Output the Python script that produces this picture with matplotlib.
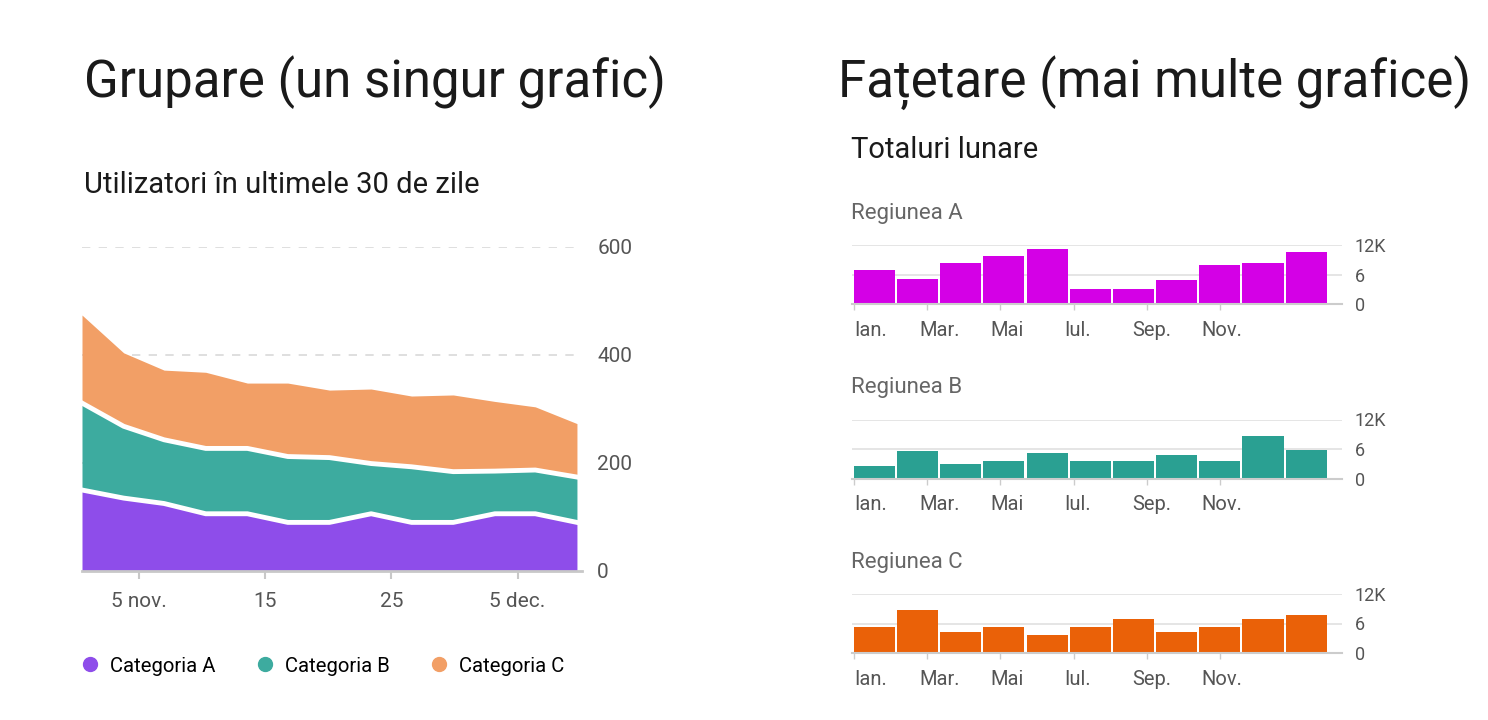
import matplotlib.pyplot as plt
from matplotlib.lines import Line2D
import numpy as np

plt.rcParams['font.family'] = ['Roboto', 'DejaVu Sans']

# Date pentru graficul din stanga (zile de la 1 nov.)
zile = [0.5, 3.8, 7.0, 10.3, 13.6, 16.8, 20.1, 23.4, 26.6, 29.9, 33.2, 36.4, 39.7]
cat_a = [150, 135, 125, 106, 106, 90, 90, 106, 90, 90, 106, 106, 90]
cat_b = [161, 133, 118, 121, 121, 122, 120, 93, 103, 94, 79, 81, 84]
cat_c = [163, 136, 129, 141, 121, 136, 125, 138, 131, 142, 129, 117, 99]
categorii = ['Categoria A', 'Categoria B', 'Categoria C']
culori_cat = ['#8e4dea', '#3dab9f', '#f29f66']
zile_ticks = [5, 15, 25, 35]
zile_etichete = ['5 nov.', '15', '25', '5 dec.']

# Date pentru graficele din dreapta (mii)
regiuni = ['Regiunea A', 'Regiunea B', 'Regiunea C']
reg_a = [7.0, 5.0, 8.3, 9.7, 11.2, 3.1, 3.1, 4.8, 7.9, 8.3, 10.6]
reg_b = [2.5, 5.5, 2.9, 3.6, 5.1, 3.6, 3.6, 4.8, 3.6, 8.6, 5.8]
reg_c = [5.3, 8.8, 4.3, 5.3, 3.6, 5.3, 6.9, 4.3, 5.3, 6.9, 7.7]
culori_reg = ['#d400e6', '#2aa092', '#ea6108']
luni = ['Ian.', 'Mar.', 'Mai', 'Iul.', 'Sep.', 'Nov.']

W, H = 1488, 720
fig = plt.figure(figsize=(W / 100, H / 100), dpi=100)

def fx(px):
    return px / W

def fy(py):
    return (H - py) / H

# Titluri
fig.text(fx(84), fy(97), 'Grupare (un singur grafic)', fontsize=36.7, color='#1a1a1a', va='baseline')
fig.text(fx(838), fy(97), 'Fațetare (mai multe grafice)', fontsize=36.7, color='#1a1a1a', va='baseline')
fig.text(fx(84), fy(193), 'Utilizatori în ultimele 30 de zile', fontsize=21, color='#1a1a1a', va='baseline')
fig.text(fx(851), fy(158), 'Totaluri lunare', fontsize=21, color='#1a1a1a', va='baseline')

# Grafic stanga - arii stivuite
ax = fig.add_axes([fx(82), fy(571), fx(582) - fx(82), fy(247) - fy(571)])
a = np.array(cat_a)
ab = a + np.array(cat_b)
abc = ab + np.array(cat_c)
ax.fill_between(zile, 0, a, color=culori_cat[0], lw=0, zorder=2)
ax.fill_between(zile, a, ab, color=culori_cat[1], lw=0, zorder=2)
ax.fill_between(zile, ab, abc, color=culori_cat[2], lw=0, zorder=2)
ax.plot(zile, a, color='white', lw=3.5, zorder=3)
ax.plot(zile, ab, color='white', lw=3.5, zorder=3)
ax.set_xlim(0.5, 40.1)
ax.set_ylim(0, 600)
ax.set_yticks([0, 200, 400, 600])
ax.yaxis.tick_right()
ax.tick_params(axis='y', length=0, pad=11, labelsize=15, labelcolor='#555555')
ax.set_xticks(zile_ticks)
ax.set_xticklabels(zile_etichete)
ax.tick_params(axis='x', length=6, width=1.5, color='#c8c8c8', pad=9, labelsize=15, labelcolor='#555555')
ax.grid(axis='y', color='#d9d9d9', linestyle=(0, (5, 5)), lw=1.2, zorder=0)
for s in ['top', 'left', 'right']:
    ax.spines[s].set_visible(False)
ax.spines['bottom'].set_color('#c8c8c8')
ax.spines['bottom'].set_linewidth(2)
ax.set_axisbelow(True)

# Legenda
handles = [Line2D([], [], marker='o', ls='', color=c, markersize=10) for c in culori_cat]
fig.legend(handles, categorii, loc='center left', bbox_to_anchor=(fx(80), fy(666)), ncol=3,
           frameon=False, fontsize=14.6, handlelength=1, handletextpad=0.5, columnspacing=1.92,
           borderpad=0, borderaxespad=0)

# Grafice dreapta - bare pe regiuni
valori_reg = [reg_a, reg_b, reg_c]
x_bare = np.arange(len(reg_a))
pozitii_ticks = -0.485 + 1.70 * np.arange(len(luni))
pozitii_luni = [-0.10, 1.52, 3.08, 4.71, 6.43, 8.04]
for i in range(3):
    zero_py = 304 + 174.5 * i
    top_py = 245 + 174.5 * i
    axr = fig.add_axes([fx(852), fy(zero_py), fx(1342) - fx(852), fy(top_py) - fy(zero_py)])
    axr.bar(x_bare, valori_reg[i], width=0.95, color=culori_reg[i], zorder=2)
    axr.set_xlim(-0.52, 10.83)
    axr.set_ylim(0, 12)
    axr.set_yticks([0, 6, 12])
    axr.set_yticklabels(['0', '6', '12K'])
    axr.yaxis.tick_right()
    axr.tick_params(axis='y', length=0, pad=9, labelsize=13, labelcolor='#555555')
    axr.grid(axis='y', color='#e0e0e0', lw=1.2, zorder=0)
    axr.set_xticks(pozitii_ticks)
    axr.set_xticklabels([])
    axr.tick_params(axis='x', which='major', length=4, width=1, color='#cccccc')
    axr.set_xticks(pozitii_luni, minor=True)
    axr.set_xticklabels(luni, minor=True)
    axr.tick_params(axis='x', which='minor', length=0, pad=12, labelsize=14.5, labelcolor='#555555')
    for s in ['top', 'left', 'right']:
        axr.spines[s].set_visible(False)
    axr.spines['bottom'].set_color('#cccccc')
    axr.spines['bottom'].set_linewidth(1.5)
    axr.set_axisbelow(True)
    fig.text(fx(851), fy(219 + 174.5 * i), regiuni[i], fontsize=16, color='#666666', va='baseline')

fig.savefig('out.png', dpi=100)
